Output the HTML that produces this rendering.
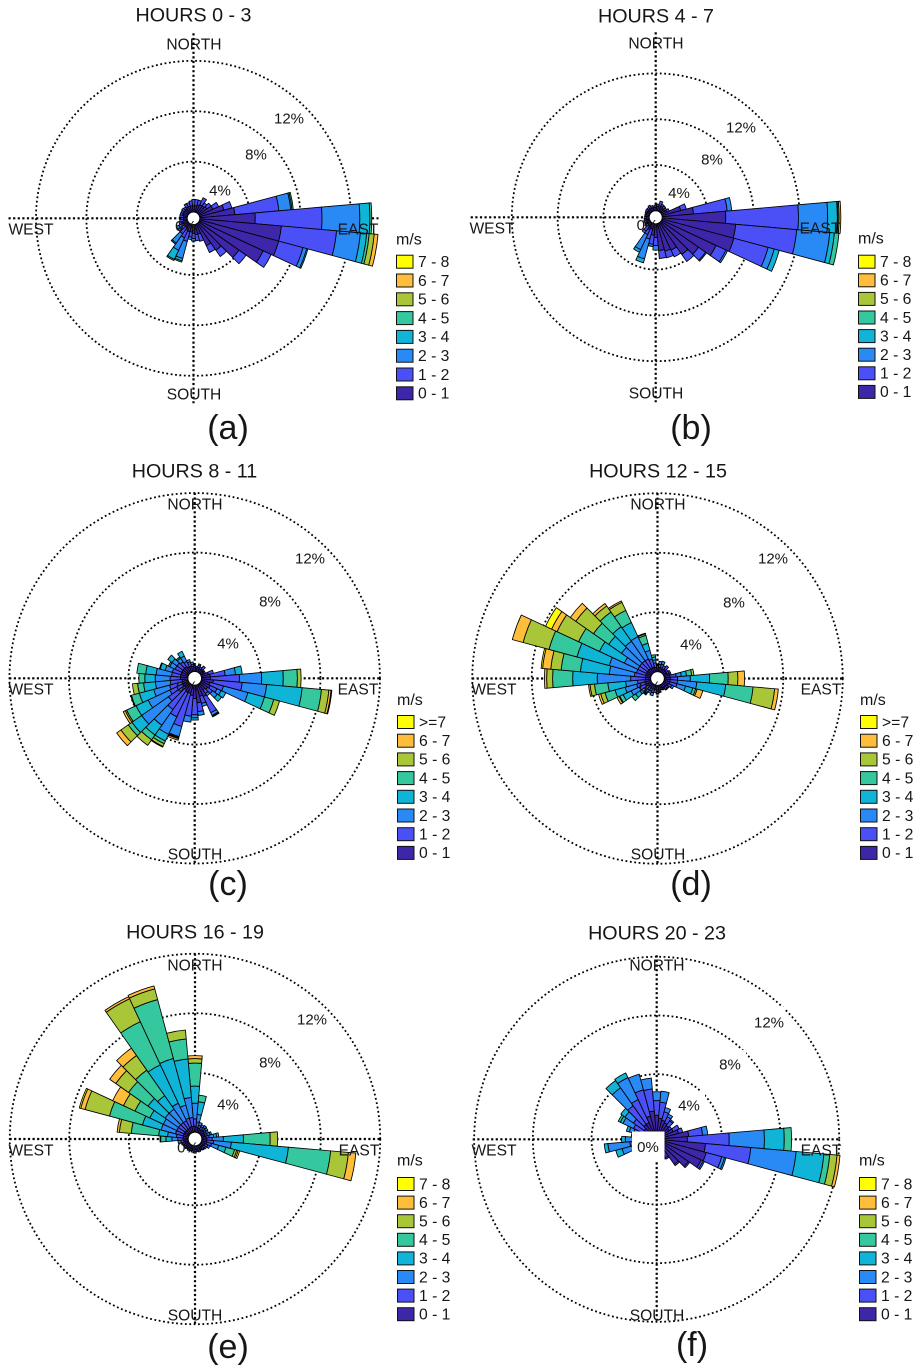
<!DOCTYPE html>
<html lang="en">
<head>
<meta charset="utf-8">
<title>Wind roses by hour of day</title>
<style>
html,body{margin:0;padding:0;background:#fff;}
svg{display:block;font-family:"Liberation Sans",Arial,sans-serif;}
text{fill:#161616;dominant-baseline:central;text-anchor:middle;}
.ttl{font-size:19.7px;transform:translateY(0.7px);}
.dir{font-size:15.6px;transform:translateY(1px);}
.pct{font-size:15px;transform:translateY(1px);}
.let{font-size:34px;}
</style>
</head>
<body>
<svg id="figure" xmlns="http://www.w3.org/2000/svg" width="922" height="1371" viewBox="0 0 922 1371">
<rect x="0" y="0" width="922" height="1371" fill="#fff"/>

<g>
<g id="marks-a"></g>
<text class="ttl" x="193.5" y="15">HOURS 0 - 3</text>
<text class="dir" x="194" y="44">NORTH</text>
<text class="dir" x="194" y="394">SOUTH</text>
<text class="dir" x="31" y="229">WEST</text>
<text class="dir" x="358" y="229">EAST</text>
<text class="pct" x="186" y="225.5">0%</text>
<text class="pct" x="220" y="190">4%</text>
<text class="pct" x="256" y="154">8%</text>
<text class="pct" x="289" y="118">12%</text>
<text class="let" x="228" y="428">(a)</text>
<g id="legend-a"></g>
</g>

<g>
<g id="marks-b"></g>
<text class="ttl" x="656" y="16">HOURS 4 - 7</text>
<text class="dir" x="656" y="43">NORTH</text>
<text class="dir" x="656" y="393">SOUTH</text>
<text class="dir" x="492" y="228">WEST</text>
<text class="dir" x="820" y="228">EAST</text>
<text class="pct" x="647.5" y="224.5">0%</text>
<text class="pct" x="679" y="192.5">4%</text>
<text class="pct" x="712" y="159">8%</text>
<text class="pct" x="741" y="127">12%</text>
<text class="let" x="691" y="428">(b)</text>
<g id="legend-b"></g>
</g>

<g>
<g id="marks-c"></g>
<text class="ttl" x="194.5" y="471">HOURS 8 - 11</text>
<text class="dir" x="195" y="504">NORTH</text>
<text class="dir" x="195" y="854">SOUTH</text>
<text class="dir" x="31" y="689">WEST</text>
<text class="dir" x="358" y="689">EAST</text>
<text class="pct" x="187" y="686">0%</text>
<text class="pct" x="228" y="643">4%</text>
<text class="pct" x="270" y="601">8%</text>
<text class="pct" x="310" y="558">12%</text>
<text class="let" x="228" y="884">(c)</text>
<g id="legend-c"></g>
</g>

<g>
<g id="marks-d"></g>
<text class="ttl" x="658" y="471">HOURS 12 - 15</text>
<text class="dir" x="658" y="504">NORTH</text>
<text class="dir" x="658" y="854">SOUTH</text>
<text class="dir" x="494" y="689">WEST</text>
<text class="dir" x="821" y="689">EAST</text>
<text class="pct" x="650" y="686">0%</text>
<text class="pct" x="691" y="644">4%</text>
<text class="pct" x="734" y="602">8%</text>
<text class="pct" x="773" y="558">12%</text>
<text class="let" x="691" y="884">(d)</text>
<g id="legend-d"></g>
</g>

<g>
<g id="marks-e"></g>
<text class="ttl" x="195" y="932">HOURS 16 - 19</text>
<text class="dir" x="195" y="965">NORTH</text>
<text class="dir" x="195" y="1315">SOUTH</text>
<text class="dir" x="31" y="1150">WEST</text>
<text class="dir" x="359" y="1150">EAST</text>
<text class="pct" x="188" y="1147">0%</text>
<text class="pct" x="228" y="1104">4%</text>
<text class="pct" x="270" y="1062">8%</text>
<text class="pct" x="312" y="1019">12%</text>
<text class="let" x="228" y="1347">(e)</text>
<g id="legend-e"></g>
</g>

<g>
<g id="marks-f"></g>
<rect x="632" y="1131.5" width="32.5" height="29" fill="#fff"/>
<rect x="673" y="1091" width="32" height="29" fill="#fff"/>
<rect x="714" y="1050" width="32" height="29" fill="#fff"/>
<rect x="753" y="1007" width="32" height="29" fill="#fff"/>
<text class="ttl" x="657" y="933">HOURS 20 - 23</text>
<text class="dir" x="657" y="965">NORTH</text>
<text class="dir" x="657" y="1315">SOUTH</text>
<text class="dir" x="494" y="1150">WEST</text>
<text class="dir" x="821" y="1150">EAST</text>
<text class="pct" x="648" y="1146.5">0%</text>
<text class="pct" x="689" y="1105">4%</text>
<text class="pct" x="730" y="1064">8%</text>
<text class="pct" x="769" y="1022">12%</text>
<text class="let" x="692" y="1345">(f)</text>
<g id="legend-f"></g>
</g>
</svg>

<script>
// Wind direction sectors (degrees clockwise from north), one row per sector in each panel below.
const bearings = [0,10,20,30,40,50,60,70,80,90,100,110,120,130,140,150,160,170,180,190,200,210,220,230,240,250,260,270,280,290,300,310,320,330,340,350];
const ringTicks = [4,8,12];
const speedLabels = ["0 - 1","1 - 2","2 - 3","3 - 4","4 - 5","5 - 6","6 - 7","7 - 8"];
const speedLabelsOpenTop = ["0 - 1","1 - 2","2 - 3","3 - 4","4 - 5","5 - 6","6 - 7",">=7"];
const speedColors = ["#3d26a8","#4a50f5","#2a8af5","#10b4d6","#35c79d","#a9c538","#febe3c","#ffff00"];

// Each row: cumulative frequency (%) at the top of each speed class for that sector.
const hours0to3 = [
[.5,1.0],[.5,1.0],[.6,1.0],[.7,1.3],[.7,1.0],[.8,1.2],[1.2,1.7],[2.0,2.65],
[2.8,6.3,7.25,7.35,7.45],[4.4,9.7,12.7,13.5,13.65],[6.5,10.9,12.8,13.3,13.5,13.9,14.2],[6.5,8.5,8.8,8.9],
[5.6,6.3],[3.9,4.6],[2.6,3.2],[1.9,2.5],[.8,1.4],[.8,1.3],[.7,1.1,1.3],[.6,1.0,1.2],
[.6,1.4,2.8,3.0,3.1],[.5,1.2,2.3,3.1,3.2],[.4,1.0,1.9,2.0],[.4,.8,1.0],[.4,.8,1.0],[.4,.7],[.3,.6],[.3,.5],
[.3,.6],[.4,.6],[.4,.6],[.4,.65],[.4,.6],[.5,.8],[.5,.8],[.5,.9]
];
const hours4to7 = [
[.3,.5],[.4,.6],[.5,.9],[.5,.7],[.4,.65],[.4,.6],[.5,.75],[1.7,2.2],
[2.75,5.7,6.1],[5.55,11.9,14.45,15.3,15.35,15.45,15.6],[6.45,11.8,14.7,15.1,15.5],[6.5,9.6,10.15,10.6],
[5.25,6.2,6.35],[4.0,4.75,4.85],[3.4,4.15],[2.6,3.25],[2.5,3.1],[2.35,3.05],[1.2,1.9,2.3],[1.0,1.8,2.0],
[.5,1.4,3.2,3.55],[.4,1.1,2.55,2.8],[.4,.9,1.1],[.3,.6],[.3,.5],[.3,.5],[.3,.45],[.25,.4],
[.3,.4],[.3,.4],[.3,.45],[.3,.5],[.3,.5],[.35,.6],[.3,.5],[.3,.45]
];
const hours8to11 = [
[.3,.4],[.25,.35],[.3,.45,.55],[.25,.4],[.3,.55],[.25,.35],[.25,.35],[.5,.85],
[.6,1.6,2.3,2.75],[.6,2.55,4.05,5.5,6.45,6.7],[.8,2.75,4.4,6.8,8.1,8.6,8.75,8.8],[.6,1.55,3.25,4.4,5.05,5.45],
[.7,1.2,1.5,1.85],[.6,1.0,1.4,1.75],[.5,.8,.98],[.9,2.1,2.3,2.35,2.4],[.8,1.3,1.5],[1.2,1.8,2.05],[.9,2.0,2.2,2.35],[.7,2.1,2.5],
[.6,2.9,3.6,3.65,3.7,3.75,3.85],[.6,2.4,3.7,4.2,4.4,4.6,4.65],[.5,2.1,3.4,4.2,4.6,5.05],[.4,1.7,3.9,4.7,5.0,5.6,5.95],
[.4,1.4,3.0,3.9,4.6,4.7,4.85],[.4,1.3,2.4,3.4,3.95,4.0],[.4,1.2,2.2,3.0,3.4,3.75],[.5,1.2,2.2,2.9,3.3],
[.5,1.1,2.15,2.85,3.45],[.5,1.1,1.6,1.95,2.0],[.5,1.0,1.4,1.5],[.5,1.0,1.4,1.75],[.5,.9,1.2,1.3],[.4,.8,1.2,1.55],[.4,.7,.85],[.35,.5,.65]
];
const hours12to15 = [
[.25,.4,.45],[.3,.5,.7],[.3,.55,.75],[.25,.5],[.3,.6],[.25,.4],[.25,.4,.5],[.3,.4,.5],
[.4,.8,1.15,1.5,1.85,2.0],[.4,.9,1.75,3.05,4.3,4.95,5.4],[.4,.9,2.2,4.15,6.0,7.45,7.7],[.4,.9,1.5,2.0,2.2,2.3,2.7],
[.35,.6,.75],[.3,.45,.5],[.3,.45,.5],[.25,.35,.4],[.2,.3,.35],[.3,.45,.5],[.3,.45,.55,.6],[.3,.5],
[.3,.55,.75],[.3,.5,.65],[.3,.5,.65,.75,.8,.85,.9],[.3,.65,1.0,1.35,1.65],[.4,.9,1.5,2.1,2.35,2.4,2.55],[.4,1.0,1.8,2.5,3.2,3.5,3.65],[.4,.9,1.7,2.9,3.8,4.1,4.2],[.35,1.35,3.6,5.25,6.6,7.0,7.15],
[.35,1.1,2.8,4.75,6.05,6.75,7.3,7.4],[.35,1.0,2.9,5.15,7.1,8.9,9.65],[.35,1.0,2.0,3.85,5.4,7.0,7.4,7.85],[.35,1.0,2.5,3.55,4.8,6.25,6.7],[.35,1.0,2.6,3.8,5.0,5.5,5.7],[.35,1.0,2.65,3.7,4.6,5.2,5.3],[.35,.9,1.5,2.0,2.55,2.65,2.7],[.3,.6,.8,1.0,1.15]
];
const hours16to19 = [
[.4,.9,1.95,3.1,4.65,4.95,5.15],[.35,.7,1.2,2.05,2.5],[.3,.5,.7],[.25,.45,.6],[.3,.5,.65],[.3,.45,.6],[.25,.4,.55],[.25,.4,.6,.7],
[.3,.5,.8,1.0,1.15],[.35,.7,1.45,2.8,4.6,5.1],[.35,.8,2.0,5.85,8.7,9.9,10.4],[.35,.7,1.2,1.7,2.3,2.45,2.55,2.65],
[.3,.5,.65],[.25,.4,.5],[.25,.4,.45],[.25,.35,.4],[.25,.35,.45],[.25,.35,.4],[.25,.4,.5],[.25,.35,.45],
[.25,.35,.4],[.25,.35,.45],[.25,.35,.4],[.25,.4,.45],[.25,.35,.45],[.25,.4,.5],[.3,.5,.7],[.35,.7,1.1,1.5,1.85,1.9],
[.35,.8,1.4,2.0,3.85,4.65,4.8],[.35,.9,1.9,3.2,5.5,7.2,7.5,7.6],[.35,.9,1.9,2.9,4.0,4.85,5.65],[.35,.9,2.0,3.4,5.0,6.05,6.55],[.35,.9,2.0,3.1,5.2,6.4,7.0],[.35,.9,2.2,5.05,8.25,9.95,10.1],[.4,1.0,1.9,5.15,9.25,10.0,10.2],[.4,1.0,2.35,4.95,6.3,6.9]
];
const hours20to23 = [
[1.2,2.2,2.8],[1.0,2.1,2.85],[.9,1.5,1.8],[.8,1.25,1.45],[.7,1.1,1.2],[.6,.8],[.8,1.25],[1.1,1.4],
[1.75,2.7,3.05],[1.65,4.5,6.9,8.25,8.75],[2.9,6.0,9.1,11.0,11.4,11.9,12.1],[3.05,4.15,4.35,4.45],
[2.9,3.05,3.15],[2.2,2.3],[1.65,1.75],[.95,1.05],[.9,1.0],[.8,.9],[.7,.85],[.6,.8],
[.5,.7],[.5,.7],[.4,.7],[.4,.8],[.4,.9,1.2],[.5,1.3,2.0,2.45],[.6,1.4,2.9,3.15],[.5,1.2,1.7,1.95],
[.4,.9,1.2,1.3],[.5,1.2,1.5,1.7],[.5,1.3,2.1,2.3,2.45],[.6,1.5,2.2,2.55],[.8,2.35,3.85,4.45],[.8,2.55,4.2,4.55],[1.2,3.05,4.15],[1.5,3.0,3.75]
];

const SVGNS = "http://www.w3.org/2000/svg";
function make(tag, parent){
  const el = document.createElementNS(SVGNS, tag);
  parent.appendChild(el);
  return el;
}
function angleRad(bearing){ return (bearing - 90) * Math.PI / 180; }
function polar(cx, cy, radius, bearing){
  const a = angleRad(bearing);
  return [cx + radius * Math.cos(a), cy + radius * Math.sin(a)];
}
function wedgePath(cx, cy, rIn, rOut, bearing){
  const halfWidth = 5;
  const p1 = polar(cx, cy, rIn, bearing - halfWidth);
  const p2 = polar(cx, cy, rOut, bearing - halfWidth);
  const p3 = polar(cx, cy, rOut, bearing + halfWidth);
  const p4 = polar(cx, cy, rIn, bearing + halfWidth);
  return "M" + p1[0].toFixed(2) + " " + p1[1].toFixed(2) +
    "L" + p2[0].toFixed(2) + " " + p2[1].toFixed(2) +
    "A" + rOut.toFixed(2) + " " + rOut.toFixed(2) + " 0 0 1 " + p3[0].toFixed(2) + " " + p3[1].toFixed(2) +
    "L" + p4[0].toFixed(2) + " " + p4[1].toFixed(2) +
    "A" + rIn.toFixed(2) + " " + rIn.toFixed(2) + " 0 0 0 " + p1[0].toFixed(2) + " " + p1[1].toFixed(2) + "Z";
}

function drawRose(id, rows, cx, cy, hole, pxPerPct, axisLen){
  const g = document.getElementById("marks-" + id);
  const radial = function(pct){ return hole + pct * pxPerPct; };

  ringTicks.forEach(function(t){
    const ring = make("circle", g);
    
    
    ring.setAttribute("cx", cx);
    ring.setAttribute("cy", cy);
    ring.setAttribute("r", radial(t));
    ring.setAttribute("fill", "none");
    ring.setAttribute("stroke", "#000");
    ring.setAttribute("stroke-width", "1.8");
    ring.setAttribute("stroke-dasharray", "1.8 2.6");
  });

  const hAxis = make("line", g);
  
  
  hAxis.setAttribute("x1", cx - axisLen);
  hAxis.setAttribute("x2", cx + axisLen);
  hAxis.setAttribute("y1", cy);
  hAxis.setAttribute("y2", cy);
  hAxis.setAttribute("stroke", "#000");
  hAxis.setAttribute("stroke-width", "2.2");
  hAxis.setAttribute("stroke-dasharray", "2.2 2.4");

  const vAxis = make("line", g);
  
  
  vAxis.setAttribute("x1", cx);
  vAxis.setAttribute("x2", cx);
  vAxis.setAttribute("y1", cy - axisLen);
  vAxis.setAttribute("y2", cy + axisLen);
  vAxis.setAttribute("stroke", "#000");
  vAxis.setAttribute("stroke-width", "2.2");
  vAxis.setAttribute("stroke-dasharray", "2.2 2.4");

  const holeDisc = make("circle", g);
  
  
  holeDisc.setAttribute("cx", cx);
  holeDisc.setAttribute("cy", cy);
  holeDisc.setAttribute("r", hole);
  holeDisc.setAttribute("fill", "#fff");

  rows.forEach(function(row, i){
    let prev = 0;
    row.forEach(function(top, bin){
      if (top <= prev) return;
      const seg = make("path", g);
      
      
      seg.setAttribute("d", wedgePath(cx, cy, radial(prev), radial(top), bearings[i]));
      seg.setAttribute("fill", speedColors[bin]);
      seg.setAttribute("stroke", "#000");
      seg.setAttribute("stroke-width", "0.85");
      seg.setAttribute("stroke-linejoin", "round");
      prev = top;
    });
  });
}

function drawLegend(id, labels, x, titleY, firstY, pitch){
  const g = document.getElementById("legend-" + id);
  const title = make("text", g);
  
  
  title.setAttribute("x", x);
  title.setAttribute("y", titleY + 1);
  title.setAttribute("font-size", "16");
  title.style.textAnchor = "start";
  title.textContent = "m/s";
  for (let k = labels.length - 1; k >= 0; k--) {
    const y = firstY + (labels.length - 1 - k) * pitch;
    const swatch = make("rect", g);
    
    
    swatch.setAttribute("x", x + 0.5);
    swatch.setAttribute("y", y - 6.5);
    swatch.setAttribute("width", 16.5);
    swatch.setAttribute("height", 13);
    swatch.setAttribute("fill", speedColors[k]);
    swatch.setAttribute("stroke", "#111");
    swatch.setAttribute("stroke-width", "1");
    const label = make("text", g);
    
    
    label.setAttribute("x", x + 22);
    label.setAttribute("y", y + 0.8);
    label.setAttribute("font-size", "15.7");
    label.style.textAnchor = "start";
    label.textContent = labels[k];
  }
}

drawRose("a", hours0to3, 193.5, 218.3, 6.3, 12.6, 185);
drawRose("b", hours4to7, 655.7, 217.3, 6.5, 11.45, 185);
drawRose("c", hours8to11, 194.7, 678.3, 6.8, 14.87, 185.5);
drawRose("d", hours12to15, 657.5, 678.5, 6.8, 14.87, 185.5);
drawRose("e", hours16to19, 195, 1139, 6.8, 14.87, 185.5);
drawRose("f", hours20to23, 656.7, 1139.3, 6.5, 14.67, 184);

drawLegend("a", speedLabels, 396, 239, 261.7, 18.8);
drawLegend("b", speedLabels, 858, 238, 261.7, 18.6);
drawLegend("c", speedLabelsOpenTop, 397, 699.5, 722, 18.7);
drawLegend("d", speedLabelsOpenTop, 860, 699.5, 722, 18.7);
drawLegend("e", speedLabels, 397, 1160, 1184, 18.6);
drawLegend("f", speedLabels, 859, 1160, 1184, 18.6);
</script>
</body>
</html>
